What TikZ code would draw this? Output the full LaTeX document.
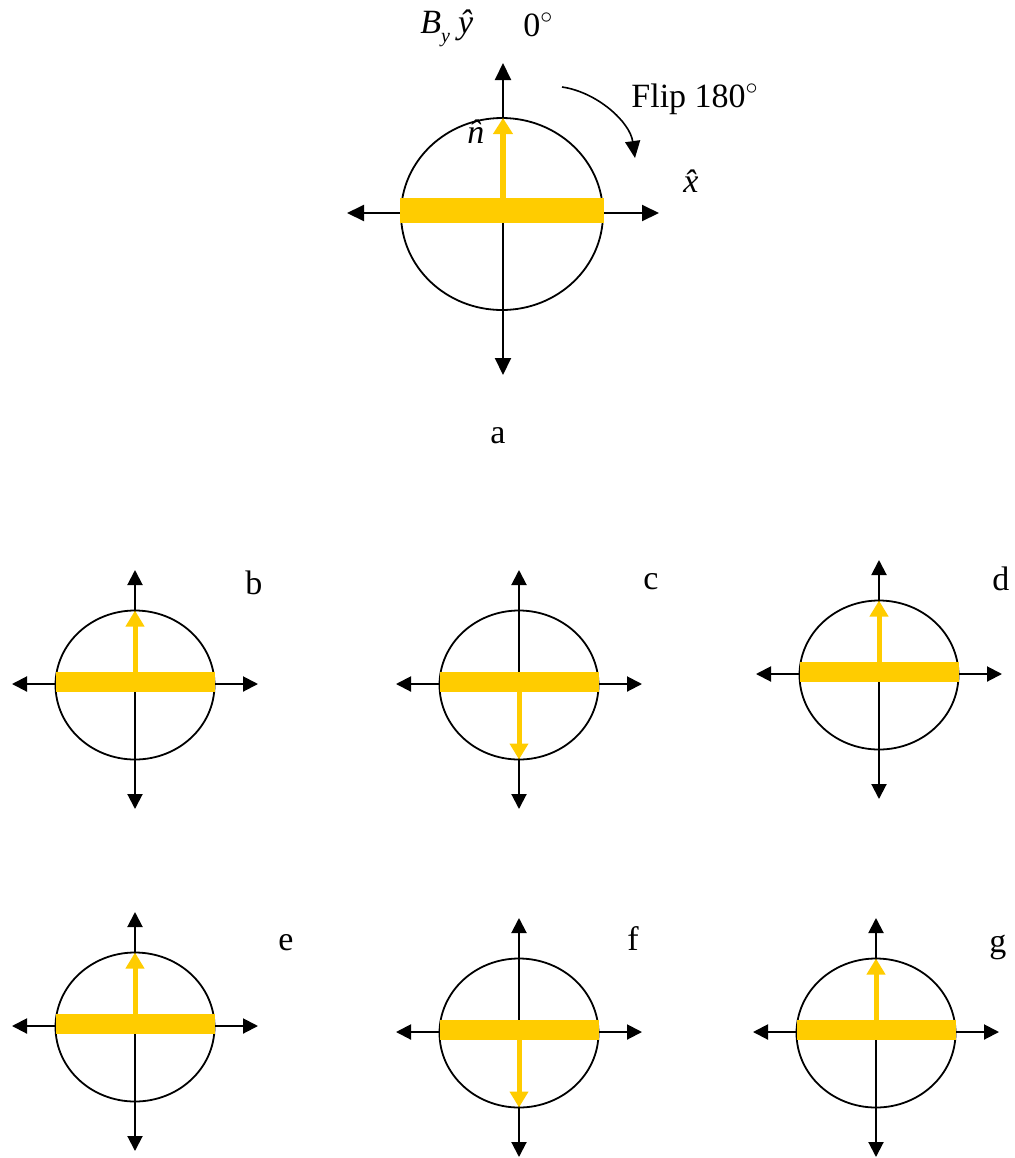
\documentclass[tikz,border=0pt]{standalone}
\usepackage{fontspec}
\setmainfont{Liberation Serif}
\usetikzlibrary{arrows.meta}
\definecolor{bargold}{RGB}{255,204,0}
\tikzset{
  axisline/.style={line width=1pt,{Triangle[length=7.5pt,width=7.5pt]}-{Triangle[length=7.5pt,width=7.5pt]}},
  bigaxis/.style={line width=1pt,{Triangle[length=8.5pt,width=8pt]}-{Triangle[length=8.5pt,width=8pt]}},
  ring/.style={line width=0.9pt},
  magbar/.style={fill=bargold},
  normvec/.style={draw=bargold,line width=2.5pt,-{Triangle[length=8pt,width=9pt]}},
  lbl/.style={inner sep=0pt,anchor=base west,font=\fontsize{17}{20}\selectfont},
}

\begin{document}
\begin{tikzpicture}[x=0.5pt,y=-0.5pt]
  \useasboundingbox (0,0) rectangle (1015,1158);
  % panel a
  \coordinate (a-top) at (503,63);
  \coordinate (a-bot) at (503,375);
  \coordinate (a-left) at (347,213);
  \coordinate (a-right) at (659,213);
  \draw[ring] (502,214) ellipse [x radius=101, y radius=96];
  \draw[bigaxis] (a-top) -- (a-bot);
  \draw[bigaxis] (a-left) -- (a-right);
  \fill[magbar] (400,198) rectangle (604,223);
  \coordinate (a-nbase) at (503,198);
  \coordinate (a-ntip) at (503,118);
  \draw[normvec,line width=3pt,-{Triangle[length=8pt,width=9.5pt]}] (a-nbase) -- (a-ntip);
  \node[lbl] (by) at (420,33) {\itshape B\raisebox{-0.6ex}{\fontsize{10}{10}\selectfont y}\hspace{4pt}\^{y}};
  \node[lbl] (zero) at (523,36) {0$^{\circ}$};
  \node[lbl] (nhat) at (467,143) {\itshape \^{n}};
  \node[lbl] (xhat) at (683,192) {\itshape \^{x}};
  \node[lbl] (flip) at (631,107) {Flip 180$^{\circ}$};
  \node[lbl] (lbl-a) at (490,443) {a};
  \coordinate (flipstart) at (562,87);
  \coordinate (flipend) at (635,158);
  \draw[line width=0.8pt,-{Triangle[length=8.5pt,width=7.5pt]}] (flipstart) .. controls (597,92) and (630,122) .. (flipend);
  % panels b to g
  \foreach \cx/\cy/\tag/\lx/\ly/\sy/\ey in {135/684/b/245/594/-12/-73.5, 519/684/c/643/589/8/75.5, 879/674/d/992/590/-12/-73.5,
      135/1026/e/278/950/-12/-73.5, 519/1032/f/627/950/8/75.5, 876/1032/g/989/952/-12/-73.5}{
    \begin{scope}[shift={(\cx,\cy)}]
      \coordinate (\tag-top) at (0,-114);
      \coordinate (\tag-bot) at (0,125);
      \coordinate (\tag-left) at (-123,0);
      \coordinate (\tag-right) at (123,0);
      \draw[ring] (0,1) ellipse [x radius=79.5, y radius=74.5];
      \draw[axisline] (\tag-top) -- (\tag-bot);
      \draw[axisline] (\tag-left) -- (\tag-right);
      \fill[magbar] (-79.5,-12) rectangle (79.5,8);
      \coordinate (\tag-nbase) at (0,\sy);
      \coordinate (\tag-ntip) at (0,\ey);
      \draw[normvec] (\tag-nbase) -- (\tag-ntip);
    \end{scope}
    \node[lbl] (lbl-\tag) at (\lx,\ly) {\tag};
  }
\end{tikzpicture}
\end{document}
